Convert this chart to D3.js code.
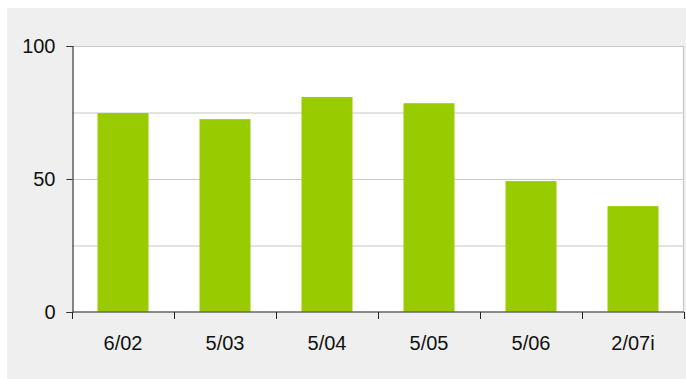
<!DOCTYPE html>
<html>
<head>
<meta charset="utf-8">
<script src="https://cdn.jsdelivr.net/npm/d3@7"></script>
<style>
  html, body { margin: 0; padding: 0; background: #ffffff; }
  svg { display: block; }
  text { font-family: "Liberation Sans", Arial, sans-serif; fill: #111; }
</style>
</head>
<body>
<svg id="chart" width="686" height="379"></svg>
<script>
// Survey periods and their values (percent)
const categories = ["6/02", "5/03", "5/04", "5/05", "5/06", "2/07i"];
const values = [74.8, 72.5, 80.8, 78.5, 49.2, 39.8];
const yTickValues = [0, 50, 100];
const gridValues = [25, 50, 75, 100];

const svg = d3.select("#chart");
const W = 686, H = 379;
const plot = { left: 72, right: 684, top: 46, bottom: 312 };
const labelSize = 20;

// Panel background
svg.append("rect")
  .attr("x", 7).attr("y", 8)
  .attr("width", W - 7).attr("height", H - 8)
  .attr("fill", "#efefef");

// Plot area
svg.append("rect")
  .attr("x", plot.left).attr("y", plot.top)
  .attr("width", plot.right - plot.left).attr("height", plot.bottom - plot.top)
  .attr("fill", "#ffffff");

const x = d3.scaleBand()
  .domain(categories)
  .range([plot.left, plot.right])
  .paddingInner(0.5)
  .paddingOuter(0.25);

const y = d3.scaleLinear()
  .domain([0, 100])
  .range([plot.bottom, plot.top]);

// Horizontal gridlines
svg.append("g")
  .selectAll("line")
  .data(gridValues)
  .join("line")
  .attr("x1", plot.left).attr("x2", plot.right)
  .attr("y1", d => y(d) + 0.5).attr("y2", d => y(d) + 0.5)
  .attr("stroke", "#c8c8c8")
  .attr("stroke-width", 1.2);

// Right border of plot area
svg.append("line")
  .attr("x1", plot.right - 0.5).attr("x2", plot.right - 0.5)
  .attr("y1", plot.top).attr("y2", plot.bottom)
  .attr("stroke", "#c8c8c8")
  .attr("stroke-width", 1.2);

// Bars
svg.append("g")
  .selectAll("rect")
  .data(values)
  .join("rect")
  .attr("x", (d, i) => x(categories[i]))
  .attr("width", x.bandwidth())
  .attr("y", d => y(d))
  .attr("height", d => y(0) - y(d))
  .attr("fill", "#99cc00");

// Y axis
const yAxis = svg.append("g")
  .attr("transform", `translate(${plot.left + 0.5},0)`)
  .call(d3.axisLeft(y).tickValues(yTickValues).tickSize(6).tickPadding(11).tickFormat(d3.format("d")));
yAxis.select(".domain").attr("stroke", "#333").attr("stroke-width", 1.2);
yAxis.selectAll(".tick line").attr("stroke", "#333");
yAxis.selectAll(".tick text")
  .attr("font-size", labelSize)
  .attr("font-family", "Liberation Sans, Arial, sans-serif")
  .attr("fill", "#111");

// X axis: ticks at category boundaries, labels centred in bands
const boundaries = d3.range(categories.length + 1).map(i => plot.left + i * (plot.right - plot.left) / categories.length);
const xAxisG = svg.append("g");
xAxisG.append("line")
  .attr("x1", plot.left).attr("x2", plot.right)
  .attr("y1", plot.bottom).attr("y2", plot.bottom)
  .attr("stroke", "#666")
  .attr("stroke-width", 1.6);
xAxisG.selectAll("line.tick")
  .data(boundaries)
  .join("line")
  .attr("class", "tick")
  .attr("x1", d => Math.round(d) + 0.5).attr("x2", d => Math.round(d) + 0.5)
  .attr("y1", plot.bottom).attr("y2", plot.bottom + 7)
  .attr("stroke", "#222");
xAxisG.selectAll("text")
  .data(categories)
  .join("text")
  .attr("x", d => x(d) + x.bandwidth() / 2)
  .attr("y", plot.bottom + 38)
  .attr("text-anchor", "middle")
  .attr("font-size", labelSize)
  .text(d => d);
</script>
</body>
</html>
